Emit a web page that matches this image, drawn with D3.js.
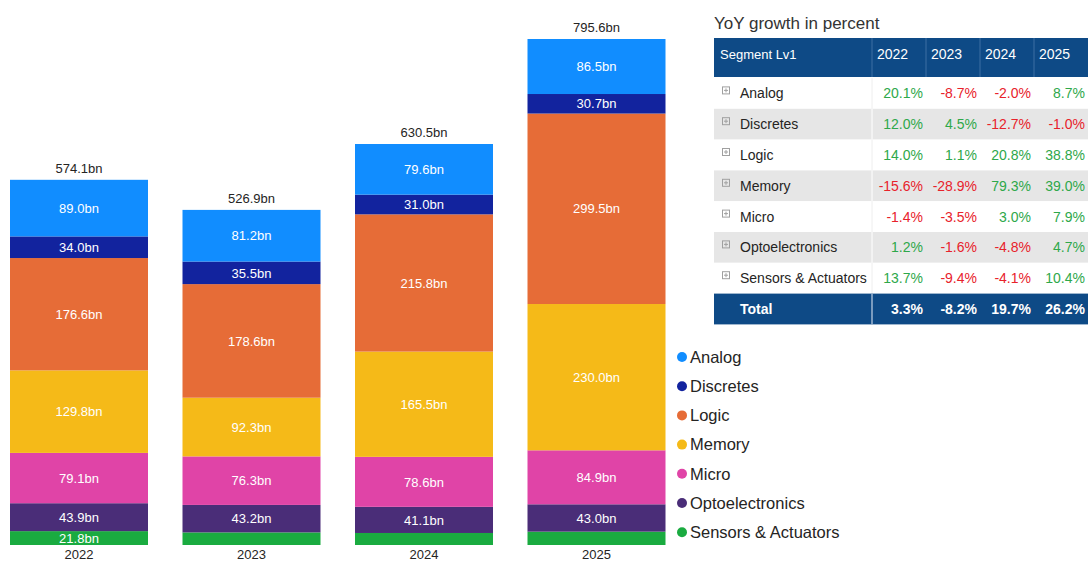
<!DOCTYPE html>
<html>
<head>
<meta charset="utf-8">
<script src="https://cdn.jsdelivr.net/npm/d3@7"></script>
<style>
  html, body { margin: 0; padding: 0; background: #fff; }
  svg { display: block; font-family: Arial, "Liberation Sans", sans-serif; }
</style>
</head>
<body>
<div id="chart"></div>
<script>
// data
var years = ['2022', '2023', '2024', '2025'];
var segments = ['Analog', 'Discretes', 'Logic', 'Memory', 'Micro', 'Optoelectronics', 'Sensors & Actuators'];
var colors = ['#118dff', '#12239e', '#e66c37', '#f5ba18', '#e044a7', '#4a2d78', '#1aab40'];

var analog = [89.0, 81.2, 79.6, 86.5];
var discretes = [34.0, 35.5, 31.0, 30.7];
var logic = [176.6, 178.6, 215.8, 299.5];
var memory = [129.8, 92.3, 165.5, 230.0];
var micro = [79.1, 76.3, 78.6, 84.9];
var opto = [43.9, 43.2, 41.1, 43.0];
var sensors = [21.8, 19.8, 18.9, 21.0];
var totals = [574.1, 526.9, 630.5, 795.6];

// yoy growth table
var growthAnalog = ['20.1%', '-8.7%', '-2.0%', '8.7%'];
var growthDiscretes = ['12.0%', '4.5%', '-12.7%', '-1.0%'];
var growthLogic = ['14.0%', '1.1%', '20.8%', '38.8%'];
var growthMemory = ['-15.6%', '-28.9%', '79.3%', '39.0%'];
var growthMicro = ['-1.4%', '-3.5%', '3.0%', '7.9%'];
var growthOpto = ['1.2%', '-1.6%', '-4.8%', '4.7%'];
var growthSensors = ['13.7%', '-9.4%', '-4.1%', '10.4%'];
var growthTotal = ['3.3%', '-8.2%', '19.7%', '26.2%'];

var seriesValues = [analog, discretes, logic, memory, micro, opto, sensors];
var growthRows = [growthAnalog, growthDiscretes, growthLogic, growthMemory, growthMicro, growthOpto, growthSensors];

const width = 1088;
const height = 561;

const svg = d3.select('#chart').append('svg')
    .attr('width', width)
    .attr('height', height);

// stacked bars, bottom segment is the last series
var rows = years.map(function(y, i) {
    var r = { year: y };
    segments.forEach(function(s, j) { r[s] = seriesValues[j][i]; });
    return r;
});
var stackKeys = segments.slice().reverse();
var stacked = d3.stack().keys(stackKeys)(rows);

var x = d3.scaleBand()
    .domain(years)
    .range([10, 665.5])
    .paddingInner(0.2)
    .paddingOuter(0);

var y = d3.scaleLinear()
    .domain([0, 795.6])
    .range([545, 39]);

var color = d3.scaleOrdinal().domain(segments).range(colors);

var layer = svg.append('g').selectAll('g')
    .data(stacked)
    .join('g')
    .attr('fill', function(d) { return color(d.key); });

layer.selectAll('rect')
    .data(function(d) { return d; })
    .join('rect')
    .attr('x', function(d) { return x(d.data.year); })
    .attr('y', function(d) { return y(d[1]); })
    .attr('width', x.bandwidth())
    .attr('height', function(d) { return y(d[0]) - y(d[1]); });

layer.selectAll('text')
    .data(function(d) { return d.filter(function(p) { return y(p[0]) - y(p[1]) >= 13.5; }); })
    .join('text')
    .attr('x', function(d) { return x(d.data.year) + x.bandwidth() / 2; })
    .attr('y', function(d) { return (y(d[0]) + y(d[1])) / 2; })
    .attr('dy', '0.36em')
    .attr('text-anchor', 'middle')
    .attr('fill', 'white')
    .attr('font-size', 13)
    .text(function(d) { return (d[1] - d[0]).toFixed(1) + 'bn'; });

// totals above bars
svg.append('g').selectAll('text')
    .data(years)
    .join('text')
    .attr('x', function(d) { return x(d) + x.bandwidth() / 2; })
    .attr('y', function(d, i) { return y(totals[i]) - 7; })
    .attr('text-anchor', 'middle')
    .attr('fill', '#252423')
    .attr('font-size', 13)
    .text(function(d, i) { return totals[i].toFixed(1) + 'bn'; });

// x axis labels
var xAxis = svg.append('g')
    .attr('transform', 'translate(0,545)')
    .call(d3.axisBottom(x).tickSize(0).tickPadding(5));
xAxis.select('.domain').remove();
xAxis.selectAll('text')
    .attr('font-size', 13)
    .attr('font-family', 'Arial, "Liberation Sans", sans-serif')
    .attr('fill', '#252423');

// legend
var legend = svg.append('g').selectAll('g')
    .data(segments)
    .join('g')
    .attr('transform', function(d, i) { return 'translate(682,' + (357 + i * 29.2) + ')'; });
legend.append('circle')
    .attr('r', 5)
    .attr('fill', function(d) { return color(d); });
legend.append('text')
    .attr('x', 8)
    .attr('dy', '0.35em')
    .attr('font-size', 16.5)
    .attr('fill', '#252423')
    .text(function(d) { return d; });

// growth table
const tX = 714;
const segW = 158;
const colW = 54;
const headTop = 38;
const headH = 39;
const rowH = 30.8;
const headBg = '#0e4a86';
const green = '#2ea84a';
const red = '#e8222b';
const fs = 14;

svg.append('text')
    .attr('x', tX)
    .attr('y', 29)
    .attr('font-size', 17)
    .attr('fill', '#333')
    .text('YoY growth in percent');

var table = svg.append('g');
var colX = function(i) { return tX + segW + i * colW; };

table.append('rect')
    .attr('x', tX).attr('y', headTop)
    .attr('width', width - tX + 20).attr('height', headH)
    .attr('fill', headBg);
table.append('text')
    .attr('x', tX + 6).attr('y', headTop + headH / 2 - 3)
    .attr('dy', '0.35em')
    .attr('font-size', 13).attr('fill', 'white')
    .text('Segment Lv1');
years.forEach(function(yr, i) {
    table.append('line')
        .attr('x1', colX(i)).attr('x2', colX(i))
        .attr('y1', headTop).attr('y2', headTop + headH)
        .attr('stroke', '#3d6ea3').attr('stroke-width', 1);
    table.append('text')
        .attr('x', colX(i) + 5).attr('y', headTop + headH / 2 - 3)
        .attr('dy', '0.35em')
        .attr('font-size', fs).attr('fill', 'white')
        .text(yr);
});

var bodyTop = headTop + headH + 1;
segments.forEach(function(seg, r) {
    var ry = bodyTop + r * rowH;
    var g = table.append('g');
    g.append('rect')
        .attr('x', tX).attr('y', ry)
        .attr('width', width - tX + 20).attr('height', rowH)
        .attr('fill', r % 2 ? '#e6e6e6' : '#fff');
    g.append('line')
        .attr('x1', colX(0)).attr('x2', colX(0))
        .attr('y1', ry).attr('y2', ry + rowH)
        .attr('stroke', r % 2 ? '#fff' : '#eee');
    // expand icon
    g.append('rect')
        .attr('x', tX + 8.5).attr('y', ry + rowH / 2 - 6.5)
        .attr('width', 7).attr('height', 7)
        .attr('fill', 'none').attr('stroke', '#a0a0a0').attr('stroke-width', 1);
    g.append('path')
        .attr('d', 'M' + (tX + 10) + ',' + (ry + rowH / 2 - 3) + 'h4M' + (tX + 12) + ',' + (ry + rowH / 2 - 5) + 'v4')
        .attr('stroke', '#a0a0a0').attr('stroke-width', 1);
    g.append('text')
        .attr('x', tX + 26).attr('y', ry + rowH / 2)
        .attr('dy', '0.35em')
        .attr('font-size', fs).attr('fill', '#252423')
        .text(seg);
    growthRows[r].forEach(function(v, i) {
        g.append('text')
            .attr('x', colX(i) + colW - 3).attr('y', ry + rowH / 2)
            .attr('dy', '0.35em')
            .attr('text-anchor', 'end')
            .attr('font-size', fs)
            .attr('fill', v.charAt(0) === '-' ? red : green)
            .text(v);
    });
});

var totY = bodyTop + segments.length * rowH;
table.append('rect')
    .attr('x', tX).attr('y', totY)
    .attr('width', width - tX + 20).attr('height', rowH)
    .attr('fill', headBg);
table.append('line')
    .attr('x1', colX(0)).attr('x2', colX(0))
    .attr('y1', totY).attr('y2', totY + rowH)
    .attr('stroke', '#9fb7d2').attr('stroke-width', 1.5);
table.append('text')
    .attr('x', tX + 26).attr('y', totY + rowH / 2)
    .attr('dy', '0.35em')
    .attr('font-size', fs).attr('font-weight', 'bold').attr('fill', 'white')
    .text('Total');
growthTotal.forEach(function(v, i) {
    table.append('text')
        .attr('x', colX(i) + colW - 3).attr('y', totY + rowH / 2)
        .attr('dy', '0.35em')
        .attr('text-anchor', 'end')
        .attr('font-size', fs).attr('font-weight', 'bold').attr('fill', 'white')
        .text(v);
});
</script>
</body>
</html>
